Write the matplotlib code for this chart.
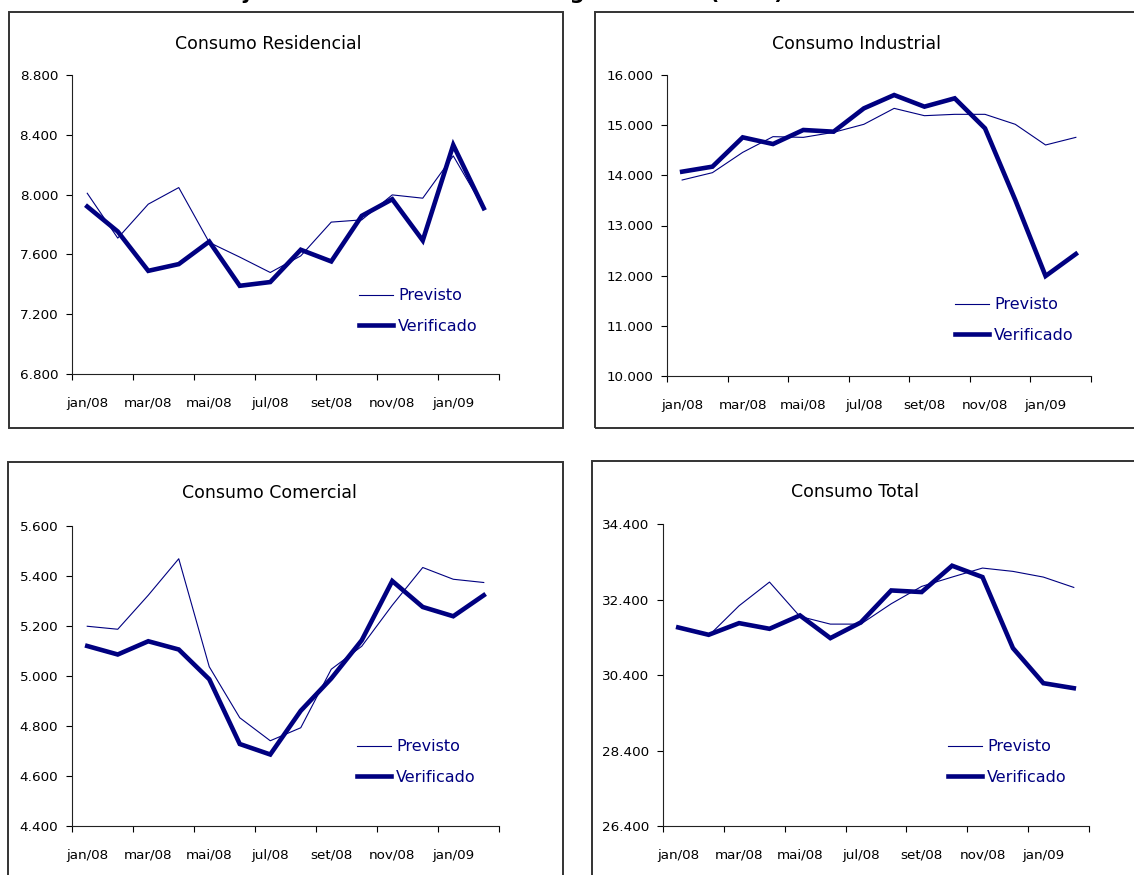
import numpy as np
import matplotlib
matplotlib.use('Agg')
import matplotlib.pyplot as plt
from matplotlib.patches import Rectangle
from matplotlib.ticker import FixedLocator, FuncFormatter

# months jan/08 .. fev/09
months = ['jan/08', 'fev/08', 'mar/08', 'abr/08', 'mai/08', 'jun/08', 'jul/08',
          'ago/08', 'set/08', 'out/08', 'nov/08', 'dez/08', 'jan/09', 'fev/09']

res_previsto = [8009, 7709, 7936, 8047, 7680, 7582, 7479, 7590, 7816, 7831, 7998, 7976, 8259, 7909]
res_verificado = [7920, 7753, 7490, 7535, 7686, 7390, 7415, 7631, 7553, 7858, 7969, 7693, 8332, 7909]

ind_previsto = [13907, 14053, 14458, 14771, 14757, 14857, 15017, 15335, 15189, 15216, 15216, 15017, 14605, 14757]
ind_verificado = [14073, 14173, 14757, 14624, 14904, 14870, 15335, 15601, 15369, 15535, 14937, 13508, 11993, 12432]

com_previsto = [5199, 5187, 5323, 5469, 5037, 4833, 4741, 4793, 5027, 5119, 5283, 5434, 5387, 5374]
com_verificado = [5120, 5086, 5139, 5106, 4987, 4728, 4686, 4861, 4990, 5143, 5380, 5276, 5239, 5323]

tot_previsto = [31660, 31439, 32234, 32862, 31951, 31748, 31748, 32287, 32747, 32994, 33233, 33145, 32994, 32720]
tot_verificado = [31660, 31465, 31774, 31624, 31978, 31377, 31792, 32640, 32597, 33295, 32994, 31112, 30183, 30051]

W, H = 1134, 875
NAVY = '#000080'


def px_rect(x0, y0, x1, y1):
    return [x0 / W, 1 - y1 / H, (x1 - x0) / W, (y1 - y0) / H]


def br_fmt(v, pos=None):
    return f"{v:,.0f}".replace(',', '.')


def draw_panel(fig, rect, title, title_xy, previsto, verificado, yticks, leg_xy):
    ax = fig.add_axes(px_rect(*rect))
    x = np.arange(len(months))
    ax.plot(x, previsto, color=NAVY, lw=0.8, label='Previsto')
    ax.plot(x, verificado, color=NAVY, lw=3.3, label='Verificado', solid_joinstyle='miter')
    ax.set_xlim(-0.5, len(months) - 0.5)
    ax.set_ylim(yticks[0], yticks[-1])
    ax.set_yticks(yticks)
    ax.yaxis.set_major_formatter(FuncFormatter(br_fmt))
    # ticks at category boundaries, labels every other month
    ax.xaxis.set_major_locator(FixedLocator(np.arange(-0.5, len(months), 2)))
    ax.xaxis.set_minor_locator(FixedLocator(x[::2]))
    ax.set_xticklabels([], minor=False)
    ax.set_xticklabels([months[i] for i in x[::2]], minor=True)
    ax.tick_params(axis='x', which='major', length=4.5, width=0.8, direction='out')
    ax.tick_params(axis='x', which='minor', length=0, pad=16.5, labelsize=9.7)
    ax.tick_params(axis='y', length=4, width=0.8, direction='out', pad=6, labelsize=9.7)
    for s in ('top', 'right'):
        ax.spines[s].set_visible(False)
    for s in ('left', 'bottom'):
        ax.spines[s].set_linewidth(0.8)
        ax.spines[s].set_color('#222222')
    ax.patch.set_alpha(0)
    fig.text(title_xy[0] / W, 1 - title_xy[1] / H, title, ha='center', va='center', fontsize=12.5)
    ax.legend(loc='center left', bbox_to_anchor=(leg_xy[0] / W, 1 - leg_xy[1] / H),
              bbox_transform=fig.transFigure, frameon=False, fontsize=11.5,
              labelcolor=NAVY, handlelength=2.1, handletextpad=0.35,
              labelspacing=0.95, borderpad=0, borderaxespad=0)
    return ax


fig = plt.figure(figsize=(W / 100, H / 100), dpi=100)
fig.patch.set_facecolor('white')

# panel frames
for x0, y0, x1, y1 in [(9, 12, 563, 428), (595, 12, 1145, 428),
                       (8, 462, 563, 885), (592, 461, 1145, 885)]:
    fig.patches.append(Rectangle((x0 / W, 1 - y1 / H), (x1 - x0) / W, (y1 - y0) / H,
                                 transform=fig.transFigure, fill=False,
                                 edgecolor='#333333', lw=1.4))

draw_panel(fig, (72, 75, 499, 374), 'Consumo Residencial', (268, 44),
           res_previsto, res_verificado, [6800, 7200, 7600, 8000, 8400, 8800], (359, 311))
draw_panel(fig, (667, 75, 1091, 376), 'Consumo Industrial', (857, 44),
           ind_previsto, ind_verificado, [10000, 11000, 12000, 13000, 14000, 15000, 16000], (955, 320))
draw_panel(fig, (72, 526, 499, 826), 'Consumo Comercial', (269, 493),
           com_previsto, com_verificado, [4400, 4600, 4800, 5000, 5200, 5400, 5600], (357, 762))
draw_panel(fig, (663, 524, 1089, 826), 'Consumo Total', (855, 492),
           tot_previsto, tot_verificado, [26400, 28400, 30400, 32400, 34400], (948, 762))

# main title, cut off at the top edge in the original
fig.text(495 / W, 1 + 1 / H, 'Trajetória do Consumo de Energia Elétrica (GWh)',
         ha='center', va='baseline', fontsize=15, fontweight='bold')

fig.savefig('out.png', dpi=100)
